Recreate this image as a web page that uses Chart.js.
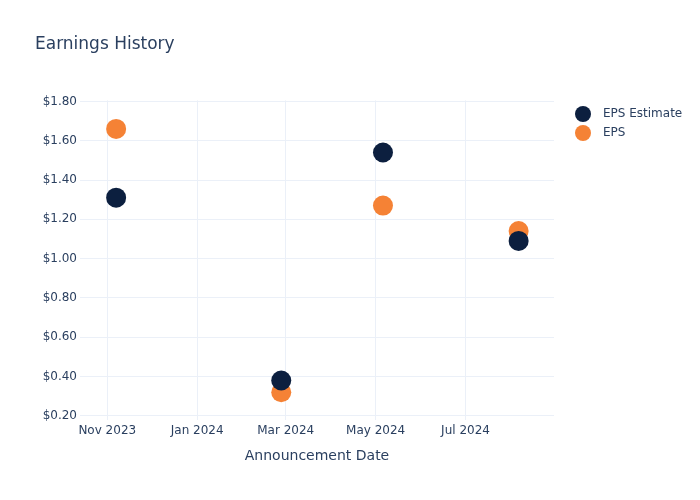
<!DOCTYPE html>
<html>
<head>
<meta charset="utf-8">
<title>Earnings History</title>
<script src="https://cdn.jsdelivr.net/npm/chart.js@4"></script>
<style>
    html, body { margin: 0; padding: 0; background: #fff; }
    #wrap { width: 700px; height: 500px; }
</style>
</head>
<body>
<div id="wrap"><canvas id="chart" width="700" height="500"></canvas></div>
<script>
// Data
const announceDates = ['2023-11-07', '2024-02-27', '2024-05-06', '2024-08-06'];
const epsEstimate = [1.31, 0.38, 1.54, 1.09];
const epsActual = [1.66, 0.32, 1.27, 1.14];
const xTickDates = ['2023-11-01', '2024-01-01', '2024-03-01', '2024-05-01', '2024-07-01'];
const monthNames = ['Jan', 'Feb', 'Mar', 'Apr', 'May', 'Jun', 'Jul', 'Aug', 'Sep', 'Oct', 'Nov', 'Dec'];

const textColor = '#2a3f5f';
const gridColor = '#ebf0f8';
const fontFamily = '"DejaVu Sans", verdana, arial, sans-serif';

function toPoints(values) {
    return values.map((v, i) => ({ x: Date.parse(announceDates[i]), y: v }));
}

// Legend drawn to the right of the plot, like the original
const sideLegend = {
    id: 'sideLegend',
    afterDraw(chart) {
        const ctx = chart.ctx;
        ctx.save();
        chart.data.datasets.forEach((ds, i) => {
            const y = 114 + i * 19;
            ctx.beginPath();
            ctx.arc(583, y, 8, 0, Math.PI * 2);
            ctx.fillStyle = ds.backgroundColor;
            ctx.fill();
            ctx.fillStyle = textColor;
            ctx.font = '12px ' + fontFamily;
            ctx.textBaseline = 'middle';
            ctx.textAlign = 'left';
            ctx.fillText(ds.label, 603, y);
        });
        ctx.restore();
    }
};

new Chart(document.getElementById('chart').getContext('2d'), {
    type: 'scatter',
    data: {
        datasets: [{
            label: 'EPS Estimate',
            data: toPoints(epsEstimate),
            backgroundColor: '#0c1f3f',
            borderWidth: 0,
            pointRadius: 10,
            pointHoverRadius: 10
        }, {
            label: 'EPS',
            data: toPoints(epsActual),
            backgroundColor: '#f58235',
            borderWidth: 0,
            pointRadius: 10,
            pointHoverRadius: 10
        }]
    },
    options: {
        responsive: false,
        animation: false,
        layout: {
            padding: { left: 35, right: 146, top: 0, bottom: 35 }
        },
        plugins: {
            legend: { display: false },
            tooltip: { enabled: false },
            title: {
                display: true,
                text: 'Earnings History',
                align: 'start',
                color: textColor,
                font: { family: fontFamily, size: 17, weight: 'normal' },
                padding: { top: 34, bottom: 46 }
            }
        },
        scales: {
            x: {
                type: 'linear',
                min: Date.parse('2023-10-13T12:00:00Z'),
                max: Date.parse('2024-08-30T00:00:00Z'),
                afterBuildTicks(scale) {
                    scale.ticks = xTickDates.map(d => ({ value: Date.parse(d) }));
                },
                ticks: {
                    color: textColor,
                    font: { family: fontFamily, size: 12 },
                    padding: 4,
                    maxRotation: 0,
                    callback(value) {
                        const d = new Date(value);
                        return monthNames[d.getUTCMonth()] + ' ' + d.getUTCFullYear();
                    }
                },
                grid: { color: gridColor, drawTicks: false },
                border: { display: false },
                title: {
                    display: true,
                    text: 'Announcement Date',
                    color: textColor,
                    font: { family: fontFamily, size: 14 },
                    padding: { top: 6, bottom: 0 }
                }
            },
            y: {
                min: 0.18,
                max: 1.805,
                afterFit(scale) { scale.width = 45; },
                ticks: {
                    stepSize: 0.2,
                    includeBounds: false,
                    color: textColor,
                    font: { family: fontFamily, size: 12 },
                    padding: 3,
                    callback: v => '$' + v.toFixed(2)
                },
                grid: { color: gridColor, drawTicks: false },
                border: { display: false }
            }
        }
    },
    plugins: [sideLegend]
});
</script>
</body>
</html>
